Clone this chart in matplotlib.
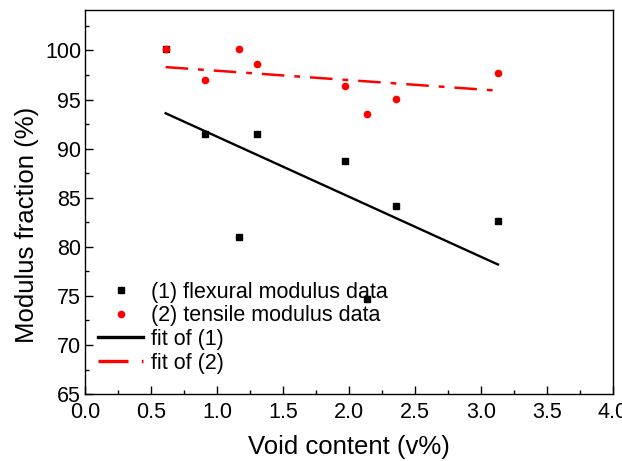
import matplotlib
matplotlib.use("Agg")
import matplotlib.pyplot as plt
from matplotlib.ticker import MultipleLocator

plt.rcParams['font.family'] = ['Liberation Sans', 'DejaVu Sans']

# Data
flex_x = [0.61, 0.91, 1.17, 1.30, 1.97, 2.14, 2.36, 3.13]
flex_y = [100.1, 91.5, 81.0, 91.5, 88.7, 74.7, 84.2, 82.6]
tens_x = [0.61, 0.91, 1.17, 1.30, 1.97, 2.14, 2.36, 3.13]
tens_y = [100.1, 97.0, 100.1, 98.6, 96.4, 93.5, 95.1, 97.7]
fit1_x = [0.61, 3.13]
fit1_y = [93.6, 78.2]
fit2_x = [0.61, 3.13]
fit2_y = [98.3, 95.9]

fig = plt.figure(figsize=(6.22, 4.61), dpi=100)
ax = fig.add_axes([0.137, 0.145, 0.848, 0.833])

ax.plot(flex_x, flex_y, 's', color='black', markersize=4, linestyle='none',
        label='(1) flexural modulus data')
ax.plot(tens_x, tens_y, 'o', color='red', markersize=4.5, linestyle='none',
        label='(2) tensile modulus data')
ax.plot(fit1_x, fit1_y, '-', color='black', linewidth=1.7, label='fit of (1)')
ax.plot(fit2_x, fit2_y, color='red', linewidth=1.8, dashes=(9, 4.0, 2.3, 4.0),
        label='fit of (2)')

ax.set_xlim(0, 4.0)
ax.set_ylim(65, 104.1)
ax.xaxis.set_major_locator(MultipleLocator(0.5))
ax.xaxis.set_minor_locator(MultipleLocator(0.25))
ax.yaxis.set_major_locator(MultipleLocator(5))
ax.yaxis.set_minor_locator(MultipleLocator(2.5))
ax.xaxis.set_major_formatter(matplotlib.ticker.FormatStrFormatter('%.1f'))

ax.tick_params(which='both', direction='in', top=False, right=False,
               labelsize=15.5, width=1.0, color='black')
ax.tick_params(which='major', length=6)
ax.tick_params(which='minor', length=3)
ax.tick_params(axis='x', which='major', pad=6)
ax.tick_params(axis='y', which='major', pad=3)
for s in ax.spines.values():
    s.set_linewidth(1.0)

ax.set_xlabel('Void content (v%)', fontsize=18.5, labelpad=8)
ax.set_ylabel('Modulus fraction (%)', fontsize=18.5)
ax.yaxis.set_label_coords(-0.088, 0.44)

leg = ax.legend(loc='lower left', bbox_to_anchor=(0.0, 0.02), frameon=False,
                fontsize=15.5, handlelength=2.1, handletextpad=0.35,
                labelspacing=0.12, borderaxespad=0.2, numpoints=1)
for h in leg.get_lines():
    if h.get_linestyle() != 'None':
        h.set_linewidth(2.4)

fig.savefig('out.png', dpi=100)
